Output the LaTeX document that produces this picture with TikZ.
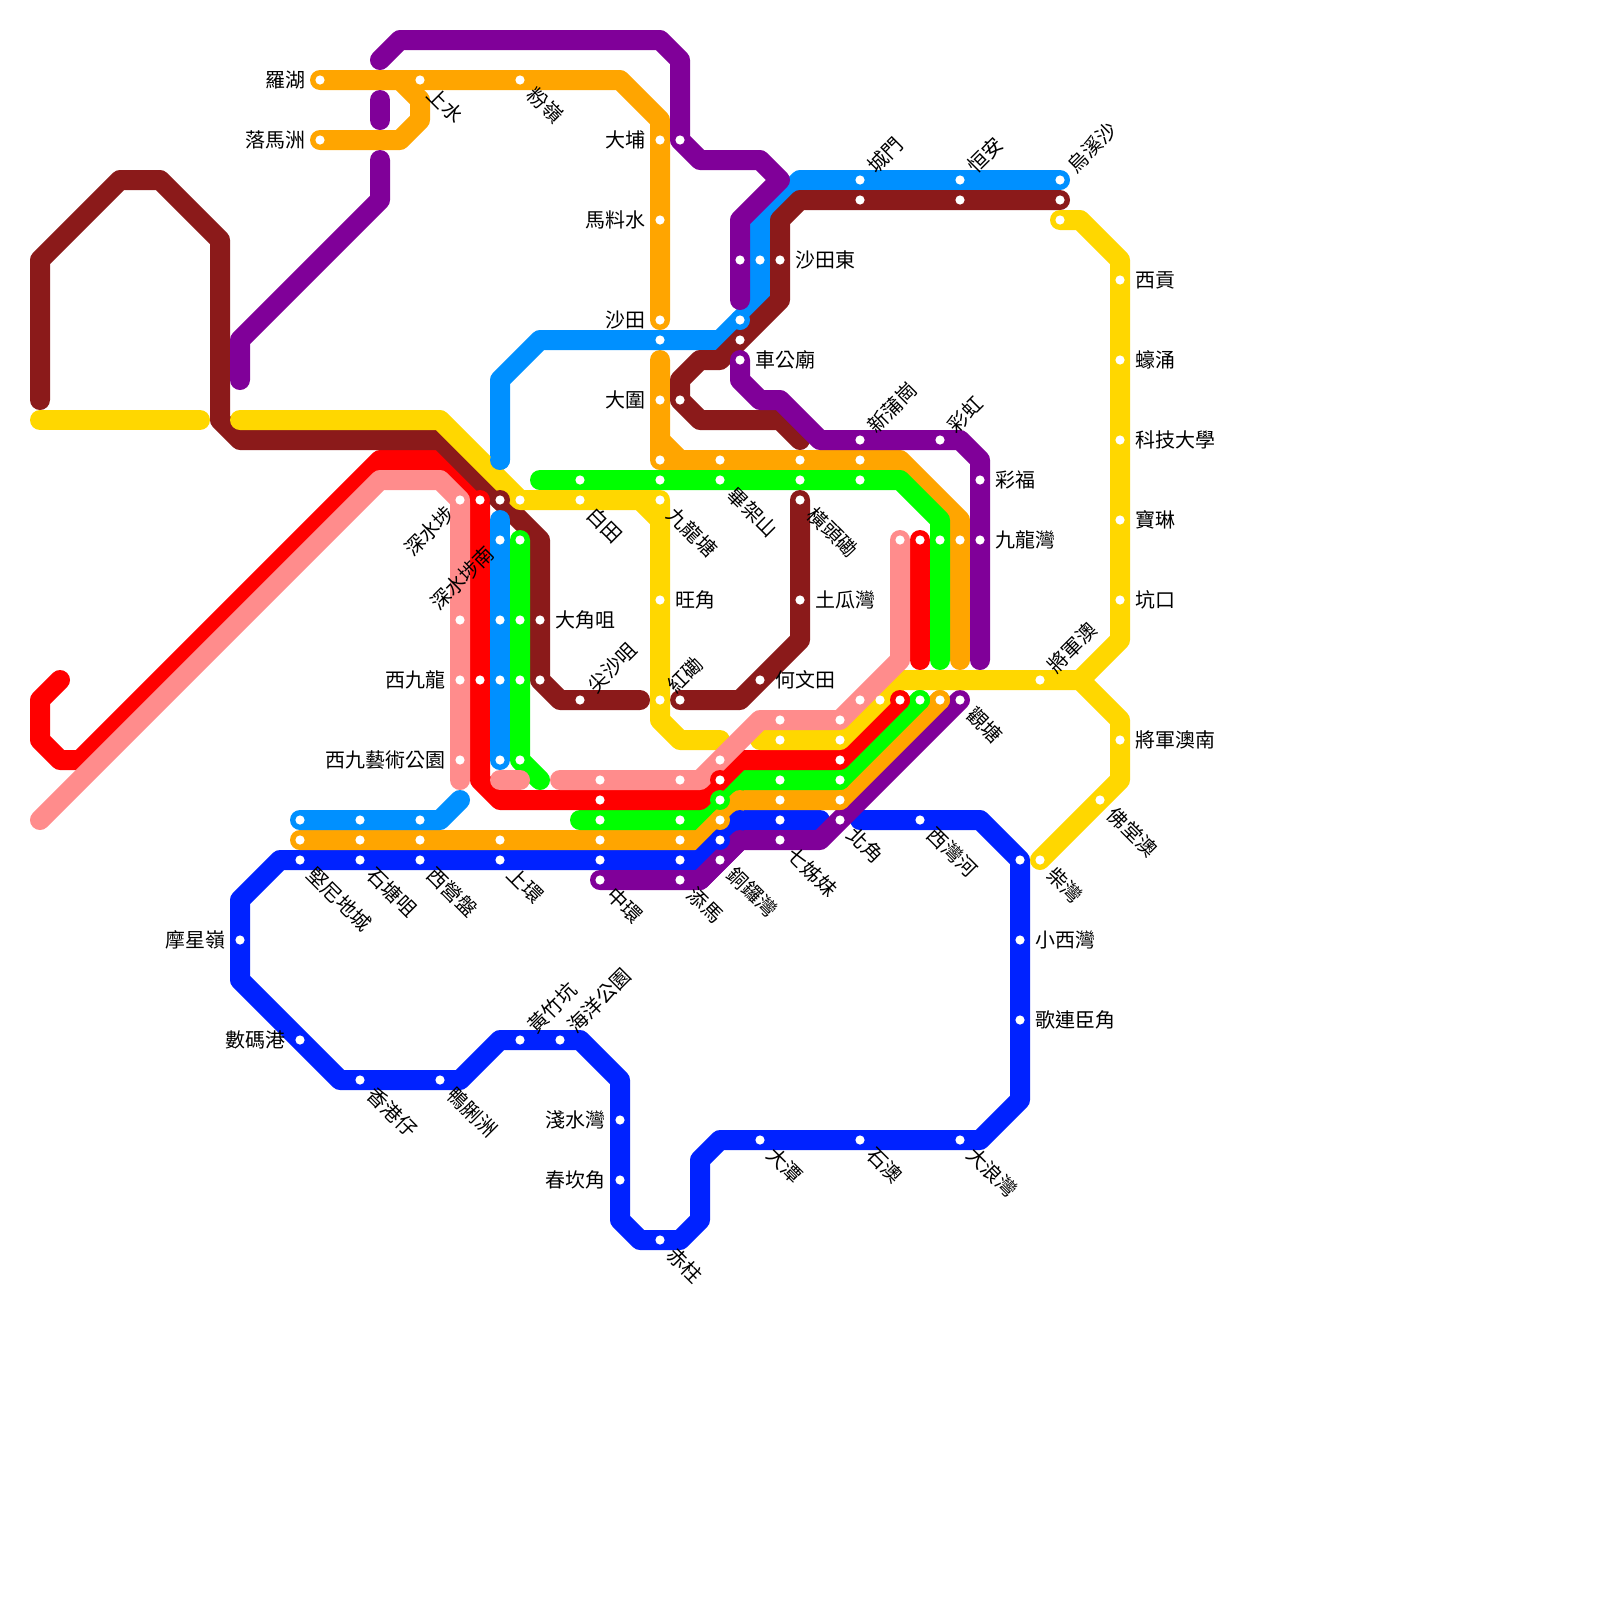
\documentclass[tikz,border=0pt]{standalone}
\usepackage{fontspec}
\setmainfont{Noto Sans CJK TC}
\definecolor{mtrBrown}{HTML}{8B1A1A}
\definecolor{mtrPurple}{HTML}{800099}
\definecolor{mtrOrange}{HTML}{FFA500}
\definecolor{mtrSky}{HTML}{0090FF}
\definecolor{mtrBlue}{HTML}{0022FF}
\definecolor{mtrYellow}{HTML}{FFD700}
\definecolor{mtrGreen}{HTML}{00FF00}
\definecolor{mtrRed}{HTML}{FF0000}
\definecolor{mtrPink}{HTML}{FF8C8C}
\tikzset{
  trk/.style={line width=5mm, line cap=round, line join=round},
  lbl/.style={font=\fontsize{14.2}{14.2}\selectfont, text=black, inner sep=0pt},
  lblR/.style={lbl, anchor=west, xshift=3.85mm},
  lblL/.style={lbl, anchor=east, xshift=-3.6mm},
  lblUp/.style={lbl, rotate=45, anchor=west, inner xsep=3.9mm},
  lblDn/.style={lbl, rotate=-45, anchor=west, inner xsep=3.9mm},
  lblBack/.style={lbl, rotate=45, anchor=east, inner xsep=3.4mm},
}
\begin{document}
\begin{tikzpicture}[x=5mm, y=-5mm]
  \useasboundingbox (0,0) rectangle (80,80);
  % lowest lines on the island
  \draw[trk, mtrBlue] (41,41) -- (37,41) -- (35,43) -- (14,43) -- (12,45) -- (12,49) -- (17,54) -- (23,54)
    -- (25,52) -- (29,52) -- (31,54) -- (31,61) -- (32,62) -- (34,62) -- (35,61) -- (35,58) -- (36,57)
    -- (49,57) -- (51,55) -- (51,43) -- (49,41) -- (43,41);
  \draw[trk, mtrPurple] (30,44) -- (35,44) -- (37,42) -- (41,42) -- (48,35);
  % orange
  \draw[trk, mtrOrange] (16,4) -- (31,4) -- (33,6) -- (33,16);
  \draw[trk, mtrOrange] (16,7) -- (20,7) -- (21,6) -- (21,5) -- (20,4);
  \draw[trk, mtrOrange] (33,18) -- (33,23) -- (45,23) -- (48,26) -- (48,33);
  \draw[trk, mtrOrange] (33,22) -- (34,23);
  \draw[trk, mtrOrange] (15,42) -- (35,42) -- (37,40) -- (42,40) -- (47,35);
  % green
  \draw[trk, mtrGreen] (27,24) -- (45,24) -- (47,26) -- (47,33);
  \draw[trk, mtrGreen] (29,41) -- (35,41) -- (37,39) -- (42,39) -- (46,35);
  % west end of the diagonals stacks the other way
  \draw[trk, mtrOrange] (35,42) -- (37,40);
  \draw[trk, mtrBlue] (35,43) -- (37,41);
  \draw[trk, mtrPurple] (35,44) -- (37,42);
  % red
  \draw[trk, mtrRed] (3,34) -- (2,35) -- (2,37) -- (3,38) -- (4,38) -- (19,23) -- (22,23) -- (24,25)
    -- (24,39) -- (25,40) -- (35,40) -- (37,38) -- (42,38) -- (45,35);
  \draw[trk, mtrRed] (46,27) -- (46,33);
  % sky blue, under the brown
  \draw[trk, mtrSky] (25,23) -- (25,19) -- (27,17) -- (36,17) -- (38,15) -- (38,11) -- (40,9) -- (53,9);
  % brown
  \draw[trk, mtrBrown] (2,20) -- (2,13) -- (6,9) -- (8,9) -- (11,12) -- (11,21) -- (12,22) -- (22,22)
    -- (27,27) -- (27,34) -- (28,35) -- (32,35);
  \draw[trk, mtrBrown] (53,10) -- (40,10) -- (39,11) -- (39,15) -- (36,18) -- (35,18) -- (34,19) -- (34,20)
    -- (35,21) -- (39,21) -- (40,22);
  \draw[trk, mtrBrown] (40,25) -- (40,32) -- (37,35) -- (34,35);
  % purple, over the brown
  \draw[trk, mtrPurple] (19,3) -- (20,2) -- (33,2) -- (34,3) -- (34,7) -- (35,8) -- (38,8) -- (39,9)
    -- (37,11) -- (37,15);
  \draw[trk, mtrPurple] (19,5) -- (19,6);
  \draw[trk, mtrPurple] (19,8) -- (19,10) -- (12,17) -- (12,19);
  \draw[trk, mtrPurple] (37,18) -- (37,19) -- (38,20) -- (39,20) -- (41,22) -- (48,22) -- (49,23) -- (49,33);
  % sky blue and green through Kowloon
  \draw[trk, mtrSky] (25,26) -- (25,38);
  \draw[trk, mtrSky] (15,41) -- (22,41) -- (23,40);
  \draw[trk, mtrGreen] (26,27) -- (26,38) -- (27,39);
  % yellow
  \draw[trk, mtrYellow] (2,21) -- (10,21);
  \draw[trk, mtrYellow] (12,21) -- (22,21) -- (26,25) -- (33,25) -- (33,36) -- (34,37) -- (36,37);
  \draw[trk, mtrYellow] (32,25) -- (33,26);
  \draw[trk, mtrYellow] (38,37) -- (42,37) -- (45,34) -- (54,34) -- (56,32) -- (56,13) -- (54,11) -- (53,11);
  \draw[trk, mtrYellow] (54,34) -- (56,36) -- (56,39) -- (52,43);
  % pink on top
  \draw[trk, mtrPink] (2,41) -- (19,24) -- (22,24) -- (23,25) -- (23,39);
  \draw[trk, mtrPink] (25,39) -- (26,39);
  \draw[trk, mtrPink] (28,39) -- (35,39) -- (38,36) -- (42,36) -- (45,33) -- (45,27);
  % line ends that sit over their neighbours
  \foreach \p/\c in {(25,23)/mtrSky, (37,16)/mtrSky, (25,25)/mtrBrown, (24,25)/mtrRed, (36,39)/mtrRed,
      (36,40)/mtrGreen, (36,41)/mtrOrange, (36,42)/mtrBlue, (42,39)/mtrGreen, (42,40)/mtrOrange,
      (45,35)/mtrRed, (46,35)/mtrGreen, (47,35)/mtrOrange}
    \fill[\c] \p circle (2.5mm);
  % stations
  \foreach \p in {(16,4),(21,4),(26,4),(16,7),(33,7),(33,11),(33,16),(33,20),(33,23),(36,23),(40,23),(43,23),
      (48,27),(15,42),(18,42),(21,42),(25,42),(30,42),(34,42),(36,41),(39,40),(42,40),(47,35),
      (34,7),(37,13),(37,18),(43,22),(47,22),(49,24),(49,27),(30,44),(34,44),(36,43),(39,42),(42,41),(48,35),
      (33,17),(37,16),(38,13),(43,9),(48,9),(53,9),(25,27),(25,31),(25,34),(25,38),(15,41),(18,41),(21,41),
      (25,25),(27,31),(27,34),(29,35),(43,10),(48,10),(53,10),(39,13),(37,17),(34,20),(40,25),(40,30),(38,34),(34,35),
      (26,25),(29,25),(33,25),(33,30),(33,35),(39,37),(42,37),(44,35),(52,34),(56,14),(56,18),(56,22),(56,26),
      (56,30),(53,11),(56,37),(55,40),(52,43),
      (29,24),(33,24),(36,24),(40,24),(43,24),(47,27),(26,27),(26,31),(26,34),(26,38),
      (30,41),(34,41),(36,40),(39,39),(42,39),(46,35),
      (24,25),(24,34),(30,40),(36,39),(42,38),(45,35),(46,27),
      (23,25),(23,31),(23,34),(23,38),(30,39),(34,39),(36,38),(39,36),(42,36),(43,35),(45,27),
      (15,43),(18,43),(21,43),(25,43),(30,43),(34,43),(36,42),(39,41),(46,41),(51,43),(51,47),(51,51),
      (48,57),(43,57),(38,57),(33,62),(31,59),(31,56),(28,52),(26,52),(22,54),(18,54),(15,52),(12,47)}
    \fill[white] \p circle (1.15mm);
  % labels on the left
  \node[lblL] (lowu) at (16,4) {羅湖};
  \node[lblL] (lokmachau) at (16,7) {落馬洲};
  \node[lblL] (taipo) at (33,7) {大埔};
  \node[lblL] (maliushui) at (33,11) {馬料水};
  \node[lblL] (shatin) at (33,16) {沙田};
  \node[lblL] (taiwai) at (33,20) {大圍};
  \node[lblL] (westkowloon) at (23,34) {西九龍};
  \node[lblL] (artspark) at (23,38) {西九藝術公園};
  \node[lblL] (mtdavis) at (12,47) {摩星嶺};
  \node[lblL] (cyberport) at (15,52) {數碼港};
  \node[lblL] (repulse) at (31,56) {淺水灣};
  \node[lblL] (chungham) at (31,59) {春坎角};
  % labels on the right
  \node[lblR] (shatineast) at (39,13) {沙田東};
  \node[lblR] (chekung) at (37,18) {車公廟};
  \node[lblR] (choifuk) at (49,24) {彩福};
  \node[lblR] (kowloonbay) at (49,27) {九龍灣};
  \node[lblR] (saikung) at (56,14) {西貢};
  \node[lblR] (hocchung) at (56,18) {蠔涌};
  \node[lblR] (hkust) at (56,22) {科技大學};
  \node[lblR] (polam) at (56,26) {寶琳};
  \node[lblR] (hanghau) at (56,30) {坑口};
  \node[lblR] (tkosouth) at (56,37) {將軍澳南};
  \node[lblR] (tokwawan) at (40,30) {土瓜灣};
  \node[lblR] (homantin) at (38,34) {何文田};
  \node[lblR] (mongkok) at (33,30) {旺角};
  \node[lblR] (taikoktsui) at (27,31) {大角咀};
  \node[lblR] (siuwan) at (51,47) {小西灣};
  \node[lblR] (capecollinson) at (51,51) {歌連臣角};
  % labels going up
  \node[lblUp] (shingmun) at (43,9) {城門};
  \node[lblUp] (hangon) at (48,9) {恒安};
  \node[lblUp] (wukaisha) at (53,9) {烏溪沙};
  \node[lblUp] (sanpokong) at (43,22) {新蒲崗};
  \node[lblUp] (choihung) at (47,22) {彩虹};
  \node[lblUp] (tko) at (52,34) {將軍澳};
  \node[lblUp] (tst) at (29,35) {尖沙咀};
  \node[lblUp] (hunghom) at (33,35) {紅磡};
  \node[lblUp] (wongchukhang) at (26,52) {黃竹坑};
  \node[lblUp] (oceanpark) at (28,52) {海洋公園};
  \node[lblBack] (ssp) at (23,25) {深水埗};
  \node[lblBack] (sspsouth) at (25,27) {深水埗南};
  % labels going down
  \node[lblDn] (sheungshui) at (21,4) {上水};
  \node[lblDn] (fanling) at (26,4) {粉嶺};
  \node[lblDn] (paktin) at (29,25) {白田};
  \node[lblDn] (kowloontong) at (33,25) {九龍塘};
  \node[lblDn] (beacon) at (36,24) {畢架山};
  \node[lblDn] (hoitau) at (40,25) {橫頭磡};
  \node[lblDn] (kwuntong) at (48,35) {觀塘};
  \node[lblDn] (futongao) at (55,40) {佛堂澳};
  \node[lblDn] (chaiwan) at (52,43) {柴灣};
  \node[lblDn] (kennedy) at (15,43) {堅尼地城};
  \node[lblDn] (shektong) at (18,43) {石塘咀};
  \node[lblDn] (saiying) at (21,43) {西營盤};
  \node[lblDn] (sheungwan) at (25,43) {上環};
  \node[lblDn] (central) at (30,44) {中環};
  \node[lblDn] (tamar) at (34,44) {添馬};
  \node[lblDn] (causeway) at (36,43) {銅鑼灣};
  \node[lblDn] (tsatsz) at (39,42) {七姊妹};
  \node[lblDn] (northpoint) at (42,41) {北角};
  \node[lblDn] (saiwanho) at (46,41) {西灣河};
  \node[lblDn] (taitam) at (38,57) {大潭};
  \node[lblDn] (sheko) at (43,57) {石澳};
  \node[lblDn] (bigwave) at (48,57) {大浪灣};
  \node[lblDn] (stanley) at (33,62) {赤柱};
  \node[lblDn] (aberdeen) at (18,54) {香港仔};
  \node[lblDn] (aplei) at (22,54) {鴨脷洲};
\end{tikzpicture}
\end{document}
